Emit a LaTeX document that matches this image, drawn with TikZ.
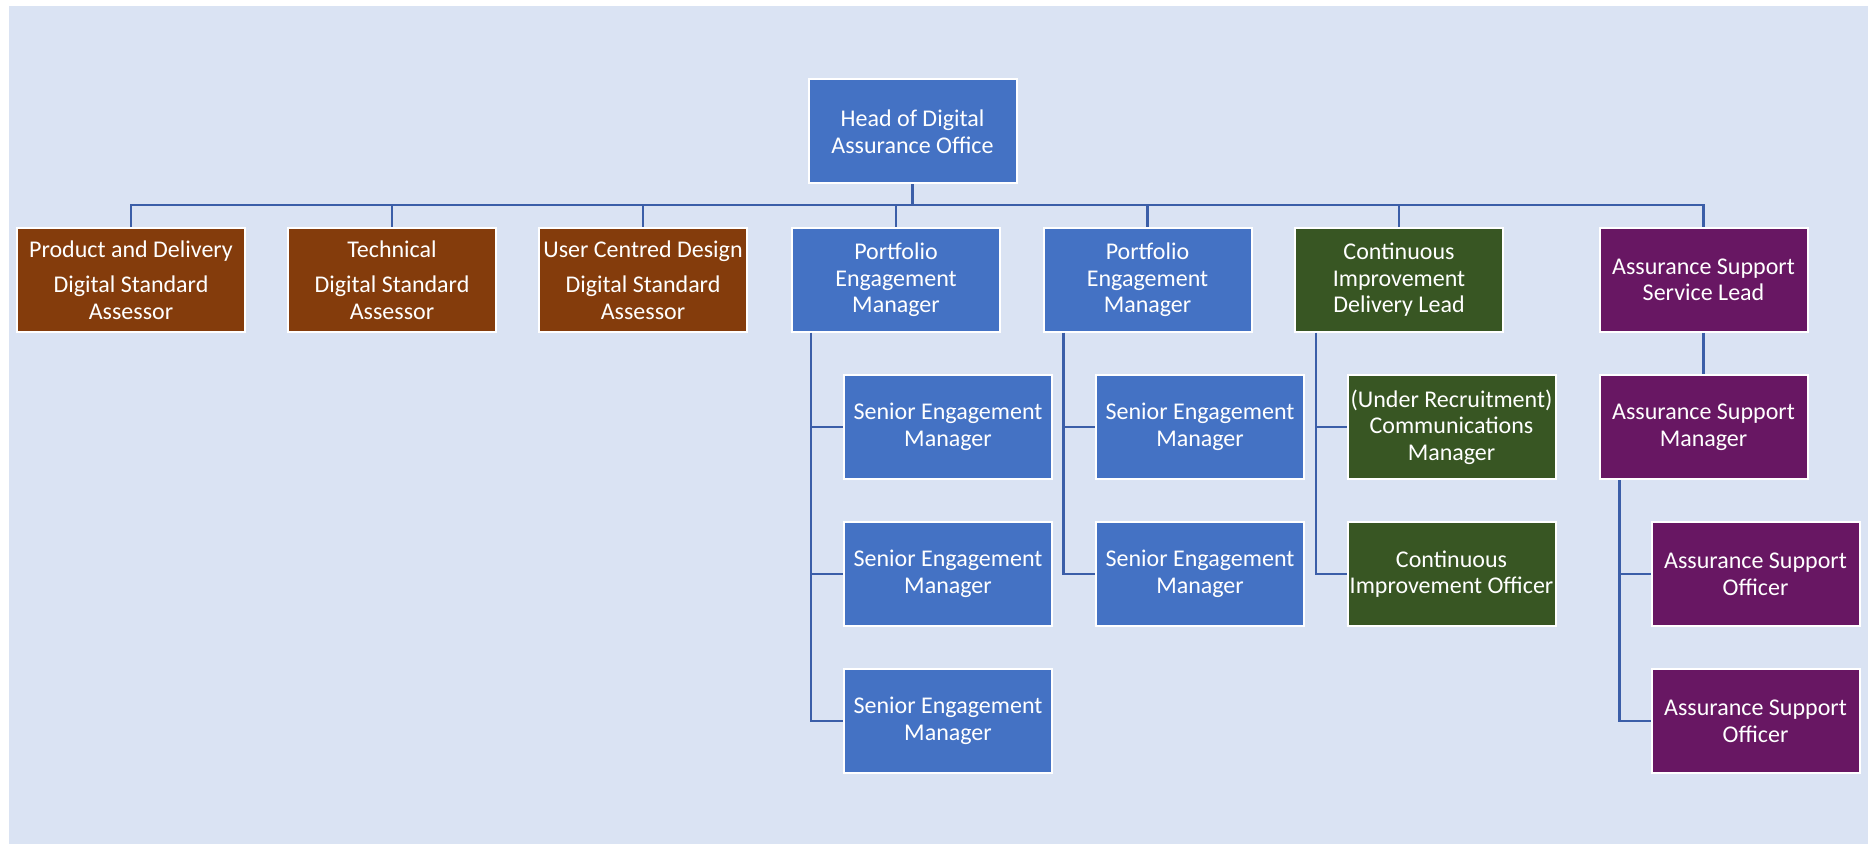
\documentclass[tikz,border=0pt]{standalone}
\usepackage{fontspec}
\setmainfont{Carlito}
\definecolor{bgblue}{RGB}{218,227,243}
\definecolor{boxblue}{RGB}{68,114,196}
\definecolor{boxbrown}{RGB}{132,60,12}
\definecolor{boxgreen}{RGB}{56,86,35}
\definecolor{boxpurple}{RGB}{104,23,99}
\definecolor{linkblue}{RGB}{59,94,168}

\begin{document}
\begin{tikzpicture}[x=0.5pt,y=-0.5pt]
   \useasboundingbox (0,0) rectangle (1868,844);
   \fill[bgblue] (9,6) rectangle (1868,844);
   \begin{scope}[every node/.style={rectangle,draw=white,line width=1pt,text=white,align=center,minimum width=104pt,minimum height=52pt,inner xsep=0pt,font=\fontsize{12}{13.3}\selectfont}]
    \node[fill=boxblue] (head) at (912.5,131.5) {Head of Digital\\Assurance Office};
    \node[fill=boxbrown,minimum width=114pt] (pd) at (131,280) {Product and Delivery\\[4.5pt]Digital Standard\\Assessor};
    \node[fill=boxbrown] (tech) at (392,280) {Technical\\[4.5pt]Digital Standard\\Assessor};
    \node[fill=boxbrown] (ucd) at (643,280) {User Centred Design\\[4.5pt]Digital Standard\\Assessor};
    \node[fill=boxblue] (pem1) at (896,280) {Portfolio\\Engagement\\Manager};
    \node[fill=boxblue] (pem2) at (1147.5,280) {Portfolio\\Engagement\\Manager};
    \node[fill=boxgreen] (cidl) at (1399,280) {Continuous\\Improvement\\Delivery Lead};
    \node[fill=boxpurple] (assl) at (1703.5,280) {Assurance Support\\Service Lead};
    \node[fill=boxblue] (sem1a) at (948,427) {Senior Engagement\\Manager};
    \node[fill=boxblue] (sem1b) at (948,574) {Senior Engagement\\Manager};
    \node[fill=boxblue] (sem1c) at (948,721) {Senior Engagement\\Manager};
    \node[fill=boxblue] (sem2a) at (1200,427) {Senior Engagement\\Manager};
    \node[fill=boxblue] (sem2b) at (1200,574) {Senior Engagement\\Manager};
    \node[fill=boxgreen] (comm) at (1451.5,427) {(Under Recruitment)\\Communications\\Manager};
    \node[fill=boxgreen] (cio) at (1451.5,574) {Continuous\\Improvement Officer};
    \node[fill=boxpurple] (asm) at (1703.5,427) {Assurance Support\\Manager};
    \node[fill=boxpurple] (aso1) at (1755.5,574) {Assurance Support\\Officer};
    \node[fill=boxpurple] (aso2) at (1755.5,721) {Assurance Support\\Officer};
   \end{scope}
   \coordinate (hub) at (912.5,205);
   \coordinate (pem1s) at ([xshift=10pt]pem1.south west);
   \coordinate (pem2s) at ([xshift=10.5pt]pem2.south west);
   \coordinate (cidls) at ([xshift=11pt]cidl.south west);
   \coordinate (asms) at ([xshift=10.5pt]asm.south west);
   \begin{scope}[every path/.style={draw=linkblue,line width=1.1pt}]
    \draw (head) -- (hub);
    \draw (hub) -| (pd);
    \draw (hub) -| (tech);
    \draw (hub) -| (ucd);
    \draw (hub) -| (pem1);
    \draw (hub) -| (pem2);
    \draw (hub) -| (cidl);
    \draw (hub) -| (assl);
    \draw (pem1s) |- (sem1a);
    \draw (pem1s) |- (sem1b);
    \draw (pem1s) |- (sem1c);
    \draw (pem2s) |- (sem2a);
    \draw (pem2s) |- (sem2b);
    \draw (cidls) |- (comm);
    \draw (cidls) |- (cio);
    \draw (assl) -- (asm);
    \draw (asms) |- (aso1);
    \draw (asms) |- (aso2);
   \end{scope}
\end{tikzpicture}
\end{document}
